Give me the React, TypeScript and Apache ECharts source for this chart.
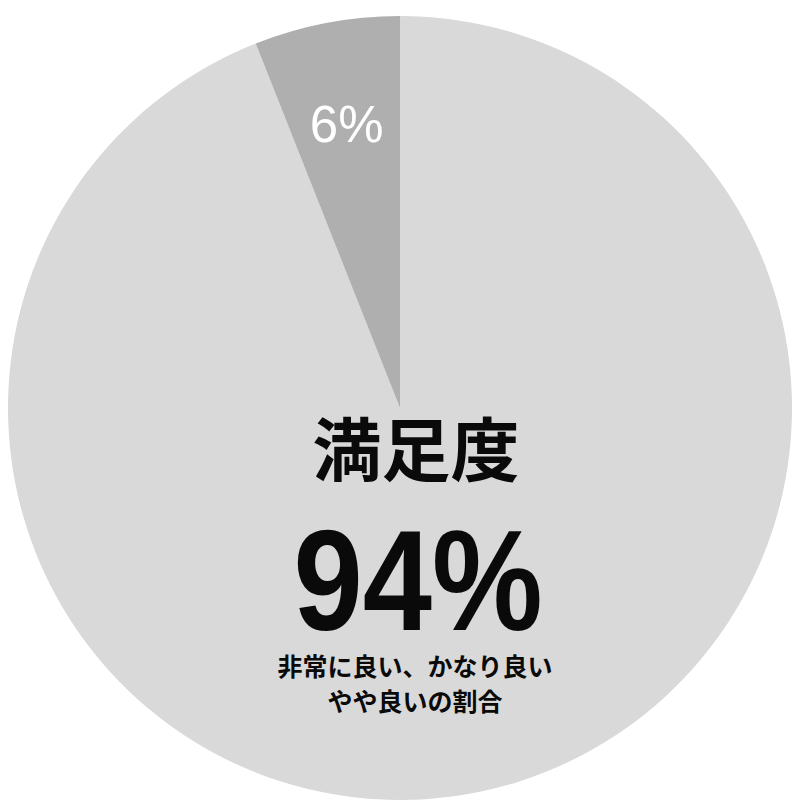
import { useEffect, useRef } from "react"
import * as echarts from "echarts"

// slices, clockwise from 12 o'clock
const categories = ["非常に良い・かなり良い・やや良い", "その他"]
const values = [94, 6]
const colors = ["#d9d9d9", "#afafaf"]
const showLabel = [false, true]

// centre captions
const headline = "満足度"
const bigNumber = "94%"
const noteLines = ["非常に良い、かなり良い", "やや良いの割合"]

export default function App() {
  const chartRef = useRef<HTMLDivElement>(null)

  useEffect(() => {
    if (!chartRef.current) return
    const chart = echarts.init(chartRef.current, undefined, { renderer: "svg" })

    const option = {
      animation: false,
      backgroundColor: "#ffffff",
      series: [
        {
          type: "pie",
          center: [400, 408],
          radius: [0, 392],
          startAngle: 90,
          clockwise: true,
          silent: true,
          itemStyle: { borderWidth: 0 },
          labelLine: { show: false },
          label: {
            position: "inside",
            formatter: "{c}%",
            color: "#ffffff",
            fontSize: 51,
            fontWeight: "normal",
            fontFamily: "Liberation Sans, Arial, sans-serif",
          },
          labelLayout: { dx: -16, dy: -88 },
          data: categories.map((name, i) => ({
            name,
            value: values[i],
            itemStyle: { color: colors[i] },
            label: { show: showLabel[i] },
          })),
        },
      ],
      graphic: [
        {
          type: "text",
          z: 100,
          x: 416,
          y: 446,
          style: {
            text: headline,
            fill: "#0a0a0a",
            fontSize: 69,
            fontWeight: "bold",
            fontFamily: "Noto Sans CJK JP",
            textAlign: "center",
            textVerticalAlign: "middle",
          },
        },
        {
          type: "text",
          z: 100,
          x: 418,
          y: 580,
          scaleX: 0.87,
          style: {
            text: bigNumber,
            fill: "#0a0a0a",
            fontSize: 143,
            fontWeight: "bold",
            fontFamily: "Liberation Sans",
            textAlign: "center",
            textVerticalAlign: "middle",
          },
        },
        ...noteLines.map((line, i) => ({
          type: "text",
          z: 100,
          x: 415,
          y: 665 + i * 35,
          style: {
            text: line,
            fill: "#0a0a0a",
            fontSize: 25,
            fontWeight: "bold",
            fontFamily: "Noto Sans CJK JP",
            textAlign: "center",
            textVerticalAlign: "middle",
          },
        })),
      ],
    }

    chart.setOption(option)

    return () => {
      chart.dispose()
    }
  }, [])

  return (
    <div
      ref={chartRef}
      style={{ position: "fixed", left: 0, top: 0, width: 800, height: 800 }}
    />
  )
}
